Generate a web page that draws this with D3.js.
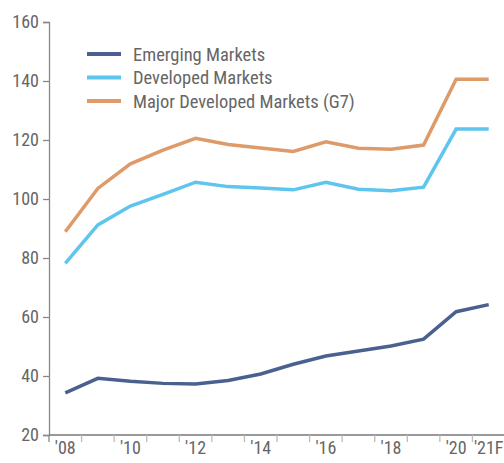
<!DOCTYPE html>
<html>
<head>
<meta charset="utf-8">
<script src="https://cdn.jsdelivr.net/npm/d3@7"></script>
<style>
  body { margin: 0; background: #fff; }
  text { font-family: "Liberation Sans Narrow", "Roboto Condensed", "Roboto", sans-serif; fill: #666; }
</style>
</head>
<body>
<svg id="chart" width="504" height="463"></svg>
<script>
// data
var years = [2008, 2009, 2010, 2011, 2012, 2013, 2014, 2015, 2016, 2017, 2018, 2019, 2020, 2021];
var yearLabels = ["'08", "", "'10", "", "'12", "", "'14", "", "'16", "", "'18", "", "'20", "'21F"];
var emerging = [34.3, 39.2, 38.2, 37.5, 37.3, 38.5, 40.7, 44.0, 46.8, 48.5, 50.2, 52.5, 61.8, 64.2];
var developed = [78.2, 91.2, 97.6, 101.6, 105.7, 104.2, 103.7, 103.1, 105.7, 103.3, 102.8, 104.0, 123.7, 123.7];
var majorG7 = [88.9, 103.6, 111.9, 116.6, 120.6, 118.5, 117.3, 116.1, 119.4, 117.2, 116.9, 118.3, 140.6, 140.6];
var yTicks = [20, 40, 60, 80, 100, 120, 140, 160];

var series = [
  { name: "Emerging Markets", values: emerging, color: "#4a6190" },
  { name: "Developed Markets", values: developed, color: "#5ec5ee" },
  { name: "Major Developed Markets (G7)", values: majorG7, color: "#de9a69" }
];

var svg = d3.select('#chart');
var mLeft = 49, mTop = 22, mBottom = 435, mRight = 505;

var x = d3.scaleBand().domain(years).range([mLeft, mRight]);
var y = d3.scaleLinear().domain([20, 160]).range([mBottom, mTop]);

// y axis
var yAxis = svg.append('g')
  .attr('transform', 'translate(' + mLeft + ',0)')
  .call(d3.axisLeft(y).tickValues(yTicks).tickSize(6).tickPadding(4));
yAxis.select('.domain').attr('stroke', '#888').attr('stroke-width', 1.3);
yAxis.selectAll('.tick line').attr('stroke', '#888').attr('stroke-width', 1.3);
yAxis.selectAll('.tick text').style('font-size', '18px').attr('fill', '#666');

// x axis with ticks on band edges
var xg = svg.append('g').attr('transform', 'translate(0,' + mBottom + ')');
xg.append('line')
  .attr('x1', mLeft).attr('x2', 504)
  .attr('stroke', '#777').attr('stroke-width', 1.3);
xg.selectAll('line.tk')
  .data(years.slice(1))
  .enter().append('line')
  .attr('class', 'tk')
  .attr('x1', function (d) { return x(d); })
  .attr('x2', function (d) { return x(d); })
  .attr('y1', 0).attr('y2', 7)
  .attr('stroke', '#bbb').attr('stroke-width', 1.3);
xg.append('line')
  .attr('x1', mLeft).attr('x2', mLeft).attr('y1', 0).attr('y2', 7)
  .attr('stroke', '#888').attr('stroke-width', 1.3);
xg.selectAll('text')
  .data(years)
  .enter().append('text')
  .attr('x', function (d) { return x(d) + x.bandwidth() / 2; })
  .attr('y', 19)
  .attr('text-anchor', 'middle')
  .style('font-size', '18px')
  .text(function (d, i) { return yearLabels[i]; });

// lines
var line = d3.line()
  .x(function (d, i) { return x(years[i]) + x.bandwidth() / 2; })
  .y(function (d) { return y(d); });

series.forEach(function (s) {
  svg.append('path')
    .datum(s.values)
    .attr('d', line)
    .attr('fill', 'none')
    .attr('stroke', s.color)
    .attr('stroke-width', 3.5)
    .attr('stroke-linejoin', 'miter');
});

// legend
var legend = svg.append('g');
series.forEach(function (s, i) {
  var ly = 54 + i * 23.5;
  legend.append('line')
    .attr('x1', 87).attr('x2', 121).attr('y1', ly).attr('y2', ly)
    .attr('stroke', s.color).attr('stroke-width', 4);
  legend.append('text')
    .attr('x', 133).attr('y', ly + 6.5)
    .style('font-size', '18.5px')
    .text(s.name);
});
</script>
</body>
</html>
